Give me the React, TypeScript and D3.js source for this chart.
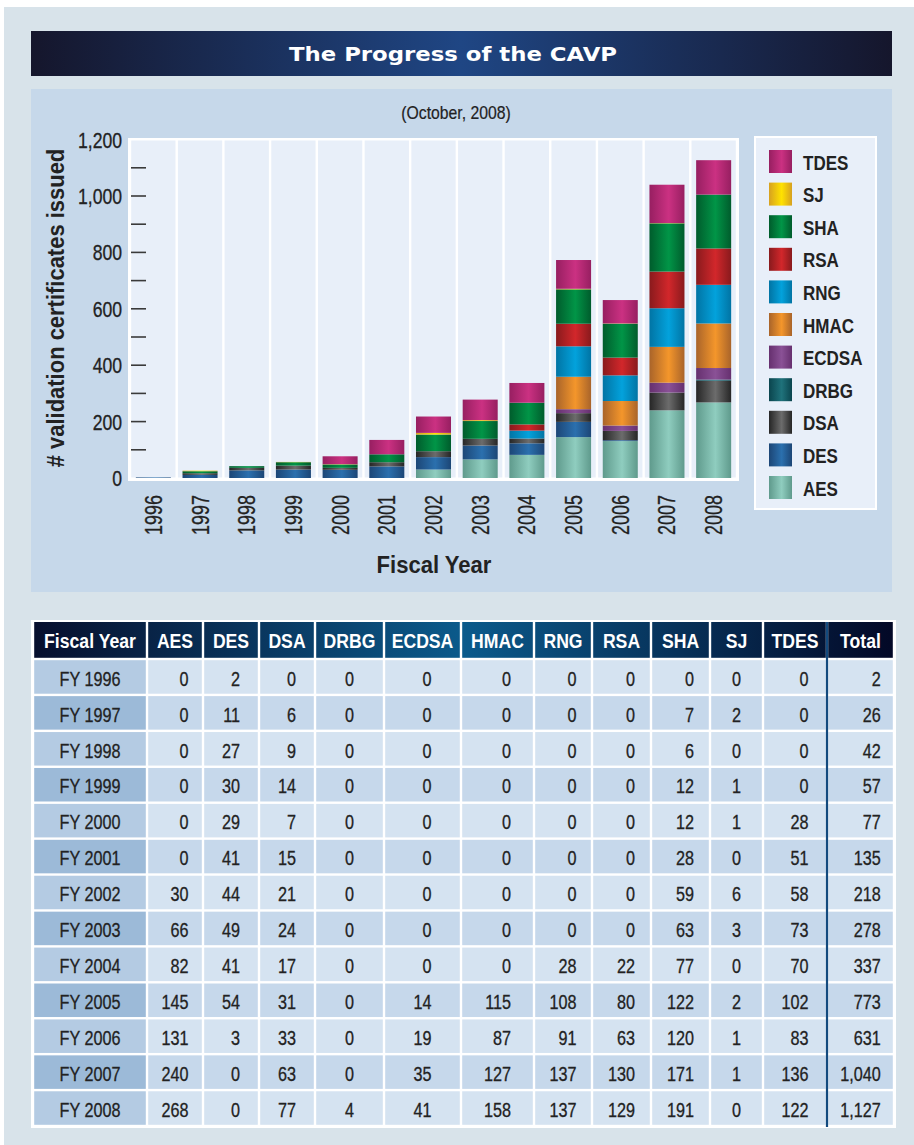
import React from 'react';
import * as d3 from 'd3';

// values (October 2008)
const years = ['1996', '1997', '1998', '1999', '2000', '2001', '2002', '2003', '2004', '2005', '2006', '2007', '2008'];
const AES = [0, 0, 0, 0, 0, 0, 30, 66, 82, 145, 131, 240, 268];
const DES = [2, 11, 27, 30, 29, 41, 44, 49, 41, 54, 3, 0, 0];
const DSA = [0, 6, 9, 14, 7, 15, 21, 24, 17, 31, 33, 63, 77];
const DRBG = [0, 0, 0, 0, 0, 0, 0, 0, 0, 0, 0, 0, 4];
const ECDSA = [0, 0, 0, 0, 0, 0, 0, 0, 0, 14, 19, 35, 41];
const HMAC = [0, 0, 0, 0, 0, 0, 0, 0, 0, 115, 87, 127, 158];
const RNG = [0, 0, 0, 0, 0, 0, 0, 0, 28, 108, 91, 137, 137];
const RSA = [0, 0, 0, 0, 0, 0, 0, 0, 22, 80, 63, 130, 129];
const SHA = [0, 7, 6, 12, 12, 28, 59, 63, 77, 122, 120, 171, 191];
const SJ = [0, 2, 0, 1, 1, 0, 6, 3, 0, 2, 1, 1, 0];
const TDES = [0, 0, 0, 0, 28, 51, 58, 73, 70, 102, 83, 136, 122];
const totals = [2, 26, 42, 57, 77, 135, 218, 278, 337, 773, 631, 1040, 1127];

const seriesNames = ['AES', 'DES', 'DSA', 'DRBG', 'ECDSA', 'HMAC', 'RNG', 'RSA', 'SHA', 'SJ', 'TDES'];
const seriesValues = [AES, DES, DSA, DRBG, ECDSA, HMAC, RNG, RSA, SHA, SJ, TDES];
// [edge, centre] shades for the cylinder look
const seriesColors: Record<string, [string, string]> = {
  AES: ['#5f9a8c', '#8fcdbf'],
  DES: ['#1c4676', '#2b70ae'],
  DSA: ['#262626', '#6c6c6c'],
  DRBG: ['#0b454e', '#1f727b'],
  ECDSA: ['#66306f', '#8a5196'],
  HMAC: ['#a9642a', '#f4962b'],
  RNG: ['#0174a4', '#03a2dc'],
  RSA: ['#891a1d', '#d2272b'],
  SHA: ['#005c2c', '#019547'],
  SJ: ['#d7a120', '#ffe200'],
  TDES: ['#971f61', '#cb3182'],
};

const yTicks = [0, 200, 400, 600, 800, 1000, 1200];
const minorTicks = [100, 200, 300, 400, 500, 600, 700, 800, 900, 1000, 1100];

const tableHeaders = ['Fiscal Year', 'AES', 'DES', 'DSA', 'DRBG', 'ECDSA', 'HMAC', 'RNG', 'RSA', 'SHA', 'SJ', 'TDES', 'Total'];
const colEdges = [33, 147, 203, 259, 315, 384, 461, 534, 592, 651, 710, 763, 827, 894];

const FONT = "'Liberation Sans', Arial, sans-serif";
const fmt = d3.format(',');

function textW(s: string, fs: number, sq: number) {
  let w = 0;
  for (const c of s) w += c === ',' ? 0.278 * sq * fs : 0.556 * sq * fs;
  return w;
}

type NProps = {
  x: number; y: number; size: number; children: React.ReactNode; sq?: number;
  anchor?: 'start' | 'middle' | 'end'; bold?: boolean; fill?: string; rotate?: number; dy?: string; heavy?: number;
};
// squeezed Liberation Sans stands in for the condensed face of the original
function NText({ x, y, size, children, sq = 0.82, anchor = 'start', bold = false, fill = '#222', rotate = 0, dy, heavy = 0 }: NProps) {
  return (
    <text
      transform={`translate(${x},${y}) rotate(${rotate}) scale(${sq},1)`}
      textAnchor={anchor}
      dy={dy}
      fontFamily={FONT}
      fontWeight={bold ? 'bold' : 'normal'}
      fontSize={size}
      fill={fill}
      stroke={heavy ? fill : 'none'}
      strokeWidth={heavy}
    >
      {children}
    </text>
  );
}

export default function App() {
  const W = 914, H = 1145;

  const x = d3.scaleBand<string>().domain(years).range([130, 737]).paddingInner(0.25).paddingOuter(0.125);
  const step = x.step();
  const y = d3.scaleLinear().domain([0, 1200]).range([478, 139.6]);

  const rows = years.map((yr, i) => {
    const r: any = { year: yr };
    seriesNames.forEach((n, k) => (r[n] = seriesValues[k][i]));
    return r;
  });
  const stacked = d3.stack<any>().keys(seriesNames)(rows);

  const legendOrder = seriesNames.slice().reverse();

  // table geometry
  const tTop = 622, headH = 37, rowH = (1126 - 659) / 13;
  const fsT = 20, sqT = 0.81;

  const tableCols = tableHeaders.map((h, c) => {
    const colVals: number[] = c === 0 ? [] : c === tableHeaders.length - 1 ? totals : seriesValues[seriesNames.indexOf(h)];
    return { h, x0: colEdges[c], x1: colEdges[c + 1], vals: colVals };
  });

  return (
    <svg width={W} height={H} style={{ display: 'block', position: 'absolute', left: 0, top: 0 }}>
      <defs>
        {seriesNames.map(n => (
          <linearGradient key={n} id={`g-${n}`} x1="0" x2="1" y1="0" y2="0">
            <stop offset="0" stopColor={seriesColors[n][0]} />
            <stop offset="0.55" stopColor={seriesColors[n][1]} />
            <stop offset="1" stopColor={seriesColors[n][0]} />
          </linearGradient>
        ))}
        <linearGradient id="titleG" gradientUnits="userSpaceOnUse" x1="31" x2="892" y1="0" y2="0">
          <stop offset="0" stopColor="#15162c" />
          <stop offset="0.5" stopColor="#1f4684" />
          <stop offset="1" stopColor="#15162c" />
        </linearGradient>
        <linearGradient id="headG" gradientUnits="userSpaceOnUse" x1="33" x2="894" y1="0" y2="0">
          <stop offset="0" stopColor="#070f2d" />
          <stop offset="0.5" stopColor="#0b5a8b" />
          <stop offset="1" stopColor="#030826" />
        </linearGradient>
      </defs>

      <rect x={0} y={0} width={W} height={H} fill="#ffffff" />
      <rect x={4} y={7} width={W - 4} height={H - 7} fill="#d8e3ea" />

      {/* title */}
      <rect x={31} y={31} width={861} height={45} fill="url(#titleG)" />
      <text x={453} y={61} textAnchor="middle" fill="#ffffff" fontFamily="'DejaVu Sans', sans-serif" fontWeight="bold" fontSize={20} textLength={328} lengthAdjust="spacingAndGlyphs">
        The Progress of the CAVP
      </text>

      {/* chart panel */}
      <rect x={31} y={89} width={861} height={503} fill="#c6d8ea" />
      <NText x={456} y={119} size={17.5} sq={0.9} anchor="middle" heavy={0.2}>(October, 2008)</NText>

      {/* plot area */}
      <rect x={128} y={138} width={611} height={343} fill="#ffffff" />
      {years.map(yr => (
        <rect key={yr} x={(x(yr) as number) - (step - x.bandwidth()) / 2 + 1.2} y={140.5} width={step - 2.4} height={477.5 - 140.5} fill="#e8eff9" />
      ))}

      {minorTicks.map(t => (
        <line key={t} x1={131} x2={146} y1={y(t)} y2={y(t)} stroke="#3a3a3a" strokeWidth={1.6} />
      ))}
      {yTicks.map(t => (
        <NText key={t} x={122} y={y(t)} dy="0.36em" anchor="end" size={22} sq={0.8} heavy={0.3}>{fmt(t)}</NText>
      ))}

      {/* stacked bars */}
      {stacked.map(s => (
        <g key={s.key} fill={`url(#g-${s.key})`}>
          {s.map((d, i) =>
            d[1] - d[0] > 0 ? (
              <rect key={i} x={x(years[i])} width={x.bandwidth()} y={y(d[1])} height={y(d[0]) - y(d[1])} />
            ) : null
          )}
        </g>
      ))}

      {years.map(yr => {
        const cx = (x(yr) as number) + x.bandwidth() / 2;
        return (
          <NText key={yr} x={cx + 8.5} y={495} rotate={-90} anchor="end" size={23} sq={0.78} heavy={0.3}>{yr}</NText>
        );
      })}

      <NText x={434} y={573} anchor="middle" bold size={24} sq={0.92}>Fiscal Year</NText>
      <NText x={63.5} y={308} rotate={-90} anchor="middle" bold size={24} sq={0.915}># validation certificates issued</NText>

      {/* legend */}
      <rect x={755} y={137} width={121} height={372} fill="#e8eff9" stroke="#ffffff" strokeWidth={2} />
      {legendOrder.map((n, i) => (
        <g key={n} transform={`translate(769,${150 + i * 32.6})`}>
          <rect width={23} height={23} fill={`url(#g-${n})`} />
          <NText x={34} y={19.5} bold size={20} sq={0.85}>{n}</NText>
        </g>
      ))}

      {/* table */}
      <rect x={31} y={tTop - 2} width={865} height={1128 - tTop + 2} fill="#ffffff" />
      {tableCols.map(c => (
        <g key={c.h}>
          <rect x={c.x0 + 1.2} y={tTop} width={c.x1 - c.x0 - 2.4} height={headH - 1.2} fill="url(#headG)" />
          <NText x={(c.x0 + c.x1) / 2} y={tTop + headH / 2} dy="0.36em" anchor="middle" bold size={21} sq={0.84} fill="#ffffff">{c.h}</NText>
        </g>
      ))}
      {years.map((yr, i) => {
        const ry = tTop + headH + i * rowH;
        const even = i % 2 === 0;
        return (
          <g key={yr}>
            {tableCols.map((c, ci) => {
              const fill = ci === 0 ? (even ? '#b4cbe3' : '#9cbad8') : even ? '#d5e3f1' : '#c6d8eb';
              const cx = (c.x0 + c.x1) / 2;
              let label = `FY ${yr}`;
              let tx = cx;
              let anchor: 'middle' | 'end' = 'middle';
              if (ci > 0) {
                label = fmt(c.vals[i]);
                const maxW = d3.max(c.vals, v => textW(fmt(v), fsT, sqT)) as number;
                tx = cx + maxW / 2;
                anchor = 'end';
              }
              return (
                <g key={c.h}>
                  <rect x={c.x0 + 1.2} y={ry + 1.2} width={c.x1 - c.x0 - 2.4} height={rowH - 2.4} fill={fill} />
                  <NText x={tx} y={ry + rowH / 2 + 1.5} dy="0.36em" anchor={anchor} size={fsT} sq={sqT} heavy={0.3}>{label}</NText>
                </g>
              );
            })}
          </g>
        );
      })}
      <line x1={827} x2={827} y1={tTop} y2={1127} stroke="#134a7e" strokeWidth={2.2} />
    </svg>
  );
}
